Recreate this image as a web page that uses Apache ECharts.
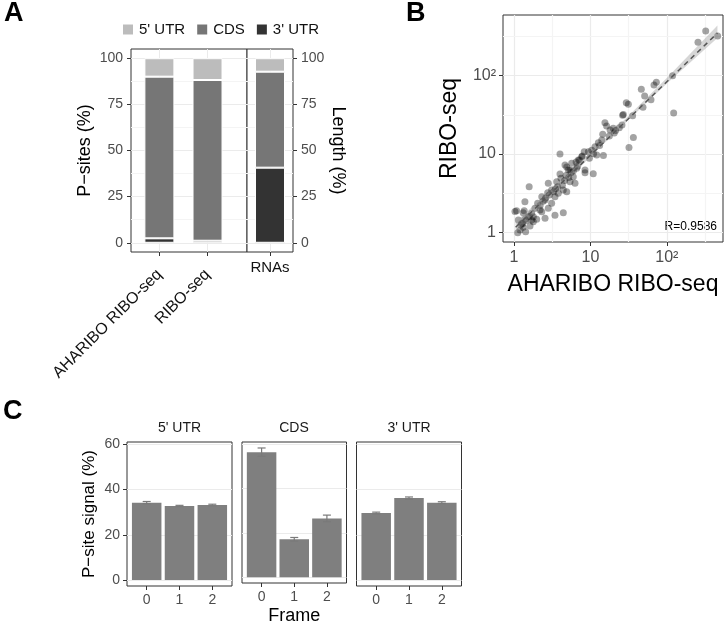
<!DOCTYPE html>
<html><head><meta charset="utf-8">
<script src="https://cdn.jsdelivr.net/npm/echarts@6/dist/echarts.min.js"></script>
<style>html,body{margin:0;padding:0;background:#fff}#c{width:728px;height:626px}</style>
</head><body><div id="c"></div>
<script>
// ---------- Panel A data ----------
const regionNames = ["5' UTR", "CDS", "3' UTR"];
const aSamples = ["AHARIBO RIBO-seq", "RIBO-seq"];
const aRnaLabel = ["RNAs"];
const aUtr5 = [10.0, 11.8];
const aCds = [87.6, 87.1];
const aUtr3 = [2.4, 1.1];
const rnaUtr5 = [7.3];
const rnaCds = [52.0];
const rnaUtr3 = [40.7];
const aTicks = [0, 25, 50, 75, 100];
const aMinor = [12.5, 37.5, 62.5, 87.5];

// ---------- Panel B data ----------
const bX = [323,256,463,119,123,73,68,46.4,51.3,62.1,48.8,29.5,31.4,26.4,36.5,32,35.7,27,
  15.5,16.3,14.5,19.9,21.4,25.9,23.9,17.7,14.1,12.7,14.8,11.5,10.4,9.4,8.3,7.7,7.2,6.5,4.9,5.4,8.5,10.9,12.1,18.1,9.7,8.5,13.2,11,20.5,
  4.0,1.58,1.08,1.39,1.2,1.12,1.32,1.42,1.36,1.54,1.44,1.79,1.79,1.98,2.04,1.88,2.19,2.31,2.55,3.44,4.42,2.31,2.55,2.76,3.11,3.44,3.8,4.42,4.9,3.62,4.0,4.12,5.14,5.41,5.97,6.29,6.61,6.95,7.84,4.65,5.69,2.81,1.23,1.62,1.7,3.11,2.81,3.73,1.03,1.14,
  2.6,2.9,3.3,4.6,4.8,5.2,6.0,2.2,1.3,4.3,5.6,6.8,1.6,2.4,3.5,1.32,1.39,1.7,1.26];
const bY = [372,267,322,100,33.4,82.4,76.2,67,55.1,49.4,39.5,45.3,43.1,31.2,16.3,12.1,30.8,31.9,
  25.1,22.8,17.9,21.3,19.9,23.5,21.7,17,15.1,13.9,9.6,12.4,11.2,10.7,10.7,9.2,8.4,7.9,6.8,6.25,6.25,5.6,9.7,20.3,8.8,5.78,12.8,10.1,18.5,
  10,3.82,1.89,2.46,1.07,0.99,1.16,1.02,1.89,1.58,1.41,1.58,1.36,1.47,2.35,2.03,1.93,1.83,1.51,1.65,1.78,2.85,2.59,3.2,3.47,2.85,3.15,3.47,3.3,4.43,5.56,4.9,6.25,4.43,5.13,4.23,6.56,8.38,9.43,7.24,7.61,4.23,1.24,1.2,1.75,2.35,2.03,3.82,1.84,1.44,
  2.75,3.0,3.3,4.6,5.3,5.0,6.1,2.2,1.3,4.0,5.8,7.0,1.6,2.5,3.6,1.78,1.47,1.44,1.3];
const fitX = [1.05, 460];
const fitY = [1.16, 350];
const bandX = [1.05, 3, 10, 30, 100, 460];
const bandLo = [0.98, 2.89, 9.23, 26.1, 79.4, 303];
const bandHi = [1.37, 3.40, 10.35, 29.2, 93.3, 437];
const bTicks = [1, 10, 100];
const bMinor = [3.162, 31.62, 316.2];
const rLabel = 'R=0.9586';

// ---------- Panel C data ----------
const facetNames = ["5' UTR", "CDS", "3' UTR"];
const frames = [0, 1, 2];
const cVals = [[34.2, 32.7, 33.1], [56.4, 17.1, 26.5], [29.6, 36.2, 34.2]];
const cErrs = [[0.5, 0.3, 0.4], [1.9, 0.8, 1.5], [0.4, 0.5, 0.4]];
const cTicks = [0, 20, 40, 60];

// ---------- styles ----------
const FONT = 'Liberation Sans, Arial, sans-serif';
const GRID_MAJOR = '#ebebeb';
const GRID_MINOR = '#f4f4f4';
const TICK_TXT = '#4d4d4d';
const FRAME = '#333333';
const COLORS = {"5' UTR": '#bcbcbc', 'CDS': '#767676', "3' UTR": '#333333'};

const chart = echarts.init(document.getElementById('c'), null, {renderer: 'canvas'});

const tickStyle = {show: true, length: 4, lineStyle: {color: FRAME, width: 1}};
const noLine = {show: false, onZero: false};

function gridBox(l, t, w, h) {
  return {left: l, top: t, width: w, height: h, show: true, borderColor: FRAME, borderWidth: 1, backgroundColor: '#fff', containLabel: false};
}

const grids = [
  gridBox(131, 49, 116, 203),    // A1
  gridBox(247, 49, 46, 203),     // A2
  gridBox(503, 15, 220, 227),    // B
  gridBox(127, 442, 105, 144),   // C1
  gridBox(242, 442, 104.5, 144), // C2
  gridBox(356.5, 442, 105, 144)  // C3
];

const logFmt = v => { const r = Math.round(v); return r >= 100 ? '10\u00B2' : String(r); };

const xAxes = [
  {type: 'value', gridIndex: 0, min: 0.41, max: 2.82,
   axisLine: noLine, axisTick: Object.assign({customValues: [1, 2]}, tickStyle),
   axisLabel: {customValues: [1, 2], rotate: 45, fontSize: 16, color: '#111', margin: 20,
     formatter: v => aSamples[Math.round(v) - 1] || ''},
   splitLine: {show: true, lineStyle: {color: GRID_MAJOR, width: 1}}},
  {type: 'value', gridIndex: 1, min: 0.5, max: 1.5,
   axisLine: noLine, axisTick: Object.assign({customValues: [1]}, tickStyle),
   axisLabel: {customValues: [1], fontSize: 15, color: '#111', margin: 8,
     formatter: v => aRnaLabel[Math.round(v) - 1] || ''},
   splitLine: {show: true, lineStyle: {color: GRID_MAJOR, width: 1}}},
  {type: 'log', logBase: 10, gridIndex: 2, min: 0.718, max: 544,
   axisLine: noLine, axisTick: Object.assign({customValues: bTicks}, tickStyle),
   axisLabel: {customValues: bTicks, fontSize: 16, color: TICK_TXT, margin: 8, formatter: logFmt},
   splitLine: {show: true, lineStyle: {color: GRID_MAJOR, width: 1.2}},
   name: 'AHARIBO RIBO-seq', nameLocation: 'middle', nameGap: 31,
   nameTextStyle: {fontSize: 23, color: '#000'}},
];
const yAxes = [
  {type: 'value', gridIndex: 0, min: -5, max: 105,
   axisLine: noLine, axisTick: Object.assign({customValues: aTicks}, tickStyle),
   axisLabel: {customValues: aTicks, fontSize: 14, color: TICK_TXT, margin: 8},
   splitLine: {show: true, lineStyle: {color: GRID_MAJOR, width: 1}},
   name: 'P\u2212sites (%)', nameLocation: 'middle', nameGap: 37,
   nameTextStyle: {fontSize: 18, color: '#000'}},
  {type: 'value', gridIndex: 1, min: -5, max: 105, position: 'right',
   axisLine: noLine, axisTick: Object.assign({customValues: aTicks}, tickStyle),
   axisLabel: {customValues: aTicks, fontSize: 14, color: TICK_TXT, margin: 8},
   splitLine: {show: true, lineStyle: {color: GRID_MAJOR, width: 1}},
   name: 'Length (%)', nameLocation: 'middle', nameGap: 36, nameRotate: -90,
   nameTextStyle: {fontSize: 18, color: '#000'}},
  {type: 'log', logBase: 10, gridIndex: 2, min: 0.752, max: 596,
   axisLine: noLine, axisTick: Object.assign({customValues: bTicks}, tickStyle),
   axisLabel: {customValues: bTicks, fontSize: 16, color: TICK_TXT, margin: 7, formatter: logFmt},
   splitLine: {show: true, lineStyle: {color: GRID_MAJOR, width: 1.2}},
   name: 'RIBO-seq', nameLocation: 'middle', nameGap: 42,
   nameTextStyle: {fontSize: 23, color: '#000'}},
];

// Panel C axes
for (let f = 0; f < 3; f++) {
  xAxes.push({type: 'value', gridIndex: 3 + f, min: -0.6, max: 2.6,
    axisLine: noLine, axisTick: Object.assign({customValues: frames}, tickStyle),
    axisLabel: {customValues: frames, fontSize: 14, color: TICK_TXT, margin: 7},
    splitLine: {show: false},
    name: f === 1 ? 'Frame' : '', nameLocation: 'middle', nameGap: 24,
    nameTextStyle: {fontSize: 18, color: '#000'}});
  yAxes.push({type: 'value', gridIndex: 3 + f, min: -2.65, max: 61,
    axisLine: noLine,
    axisTick: Object.assign({customValues: cTicks}, tickStyle, {show: f === 0}),
    axisLabel: {customValues: cTicks, show: f === 0, fontSize: 14, color: TICK_TXT, margin: 7},
    splitLine: {show: true, lineStyle: {color: GRID_MAJOR, width: 1}},
    name: f === 0 ? 'P\u2212site signal (%)' : '', nameLocation: 'middle', nameGap: 29,
    nameTextStyle: {fontSize: 17, color: '#000'}});
}

const series = [];
// Panel A bars (value dimension first so the stack is applied on y)
function barSeries(name, xi, vals, extra) {
  return Object.assign({
    type: 'bar', name: name, xAxisIndex: xi, yAxisIndex: xi, stack: 'a' + xi,
    barWidth: 30, z: 2,
    itemStyle: {color: COLORS[name], borderColor: '#ffffff', borderWidth: 1},
    encode: {x: 1, y: 0},
    data: vals.map((v, i) => [v, i + 1])
  }, extra || {});
}
const minorA = {silent: true, symbol: 'none', z: 1, label: {show: false},
  lineStyle: {color: GRID_MINOR, width: 1, type: 'solid'}, emphasis: {disabled: true},
  data: aMinor.map(v => ({yAxis: v}))};
series.push(barSeries("3' UTR", 0, aUtr3, {markLine: minorA}));
series.push(barSeries('CDS', 0, aCds));
series.push(barSeries("5' UTR", 0, aUtr5));
series.push(barSeries("3' UTR", 1, rnaUtr3, {markLine: minorA}));
series.push(barSeries('CDS', 1, rnaCds));
series.push(barSeries("5' UTR", 1, rnaUtr5));

// Panel B
series.push({
  type: 'scatter', xAxisIndex: 2, yAxisIndex: 2, symbolSize: 7, z: 2,
  itemStyle: {color: 'rgba(0,0,0,0.45)', borderWidth: 0},
  data: bX.map((x, i) => [x, bY[i]]),
  markLine: {silent: true, symbol: 'none', z: 1, label: {show: false},
    lineStyle: {color: GRID_MINOR, width: 1.2, type: 'solid'}, emphasis: {disabled: true},
    data: bMinor.map(v => ({xAxis: v})).concat(bMinor.map(v => ({yAxis: v})))}
});
series.push({
  type: 'custom', xAxisIndex: 2, yAxisIndex: 2, z: 3, silent: true,
  data: bandX.map((x, i) => [x, bandLo[i], bandHi[i]]),
  encode: {x: 0, y: [1, 2]},
  renderItem: function (params, api) {
    if (params.dataIndex !== 0) return null;
    const pts = [];
    for (let i = 0; i < bandX.length; i++) pts.push(api.coord([bandX[i], bandHi[i]]));
    for (let i = bandX.length - 1; i >= 0; i--) pts.push(api.coord([bandX[i], bandLo[i]]));
    return {type: 'polygon', shape: {points: pts}, style: {fill: 'rgba(153,153,153,0.4)'}};
  }
});
series.push({
  type: 'line', xAxisIndex: 2, yAxisIndex: 2, z: 4, symbol: 'none', silent: true,
  lineStyle: {color: '#555', width: 1.5, type: [5, 4]},
  data: fitX.map((x, i) => [x, fitY[i]])
});

// Panel C
for (let f = 0; f < 3; f++) {
  series.push({
    type: 'bar', xAxisIndex: 3 + f, yAxisIndex: 3 + f, barWidth: 29.5, z: 2,
    itemStyle: {color: '#7f7f7f'},
    data: frames.map((fr, i) => [fr, cVals[f][i]])
  });
  series.push({
    type: 'custom', xAxisIndex: 3 + f, yAxisIndex: 3 + f, z: 3, silent: true,
    data: frames.map((fr, i) => [fr, cVals[f][i], cErrs[f][i]]),
    encode: {x: 0, y: 1},
    renderItem: function (params, api) {
      const x = api.value(0), v = api.value(1), e = api.value(2);
      const top = api.coord([x, v + e]);
      const bot = api.coord([x, v - e]);
      const hw = 4;
      const st = {stroke: '#7a7a7a', lineWidth: 1.2};
      return {type: 'group', children: [
        {type: 'line', shape: {x1: top[0], y1: top[1], x2: bot[0], y2: bot[1]}, style: st},
        {type: 'line', shape: {x1: top[0] - hw, y1: top[1], x2: top[0] + hw, y2: top[1]}, style: st},
        {type: 'line', shape: {x1: bot[0] - hw, y1: bot[1], x2: bot[0] + hw, y2: bot[1]}, style: st}
      ]};
    }
  });
}

const option = {
  animation: false,
  backgroundColor: '#ffffff',
  textStyle: {fontFamily: FONT},
  legend: {
    data: regionNames, left: 121, top: 22, padding: 0, icon: 'rect', itemWidth: 12, itemHeight: 12,
    itemGap: 10, selectedMode: false,
    textStyle: {fontSize: 15, color: '#111'}
  },
  grid: grids, xAxis: xAxes, yAxis: yAxes, series: series,
  graphic: [
    {type: 'text', left: 4, top: 0, style: {text: 'A', font: 'bold 27px ' + FONT, fill: '#000'}},
    {type: 'text', left: 406, top: 0, style: {text: 'B', font: 'bold 27px ' + FONT, fill: '#000'}},
    {type: 'text', left: 3, top: 398, style: {text: 'C', font: 'bold 27px ' + FONT, fill: '#000'}},
    {type: 'text', x: 717, y: 226.5, style: {text: rLabel, font: '12px ' + FONT, fill: '#000', align: 'right', verticalAlign: 'middle'}},
    {type: 'text', x: 179.5, y: 428.5, style: {text: facetNames[0], font: '14px ' + FONT, fill: '#1a1a1a', align: 'center', verticalAlign: 'middle'}},
    {type: 'text', x: 294, y: 428.5, style: {text: facetNames[1], font: '14px ' + FONT, fill: '#1a1a1a', align: 'center', verticalAlign: 'middle'}},
    {type: 'text', x: 409, y: 428.5, style: {text: facetNames[2], font: '14px ' + FONT, fill: '#1a1a1a', align: 'center', verticalAlign: 'middle'}}
  ]
};
chart.setOption(option);
</script>
</body></html>
